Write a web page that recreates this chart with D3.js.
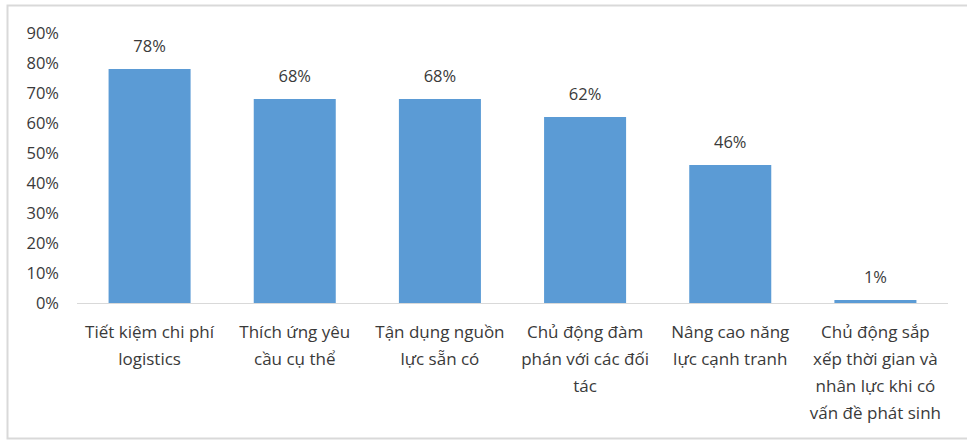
<!DOCTYPE html>
<html>
<head>
<meta charset="utf-8">
<script src="https://cdn.jsdelivr.net/npm/d3@7"></script>
<style>
  html, body { margin: 0; padding: 0; background: #fff; }
  svg { display: block; }
  text { font-family: "Open Sans", "Noto Sans", sans-serif; fill: #3a3a3a; }
</style>
</head>
<body>
<svg id="chart" width="967" height="440"></svg>
<script>
const categories = [
  "Tiết kiệm chi phí logistics",
  "Thích ứng yêu cầu cụ thể",
  "Tận dụng nguồn lực sẵn có",
  "Chủ động đàm phán với các đối tác",
  "Nâng cao năng lực cạnh tranh",
  "Chủ động sắp xếp thời gian và nhân lực khi có vấn đề phát sinh"
];
const categoryLines = [
  ["Tiết kiệm chi phí", "logistics"],
  ["Thích ứng yêu", "cầu cụ thể"],
  ["Tận dụng nguồn", "lực sẵn có"],
  ["Chủ động đàm", "phán với các đối", "tác"],
  ["Nâng cao năng", "lực cạnh tranh"],
  ["Chủ động sắp", "xếp thời gian và", "nhân lực khi có", "vấn đề phát sinh"]
];
const values = [0.78, 0.68, 0.68, 0.62, 0.46, 0.01];
const tickValues = [0, 0.1, 0.2, 0.3, 0.4, 0.5, 0.6, 0.7, 0.8, 0.9];

const svg = d3.select("#chart");

// chart border
svg.append("rect")
  .attr("x", 7.5).attr("y", 5.5)
  .attr("width", 980).attr("height", 433)
  .attr("fill", "none")
  .attr("stroke", "#d9d9d9")
  .attr("stroke-width", 2);

const x = d3.scaleBand()
  .domain(categories)
  .range([77, 948])
  .paddingInner(0.435)
  .paddingOuter(0.2175);

const y = d3.scaleLinear()
  .domain([0, 0.9])
  .range([303, 33]);

// y axis labels
const yAxis = d3.axisLeft(y)
  .tickValues(tickValues)
  .tickFormat(d3.format(".0%"))
  .tickSize(0)
  .tickPadding(0);
const gy = svg.append("g")
  .attr("transform", "translate(59,0)")
  .call(yAxis);
gy.select(".domain").remove();
gy.selectAll("text")
  .style("font-family", "'Open Sans', 'Noto Sans', sans-serif")
  .style("font-size", "16.5px")
  .attr("fill", "#3a3a3a");

// bars
svg.append("g").selectAll("rect")
  .data(values)
  .join("rect")
  .attr("x", (d, i) => x(categories[i]))
  .attr("y", d => y(d))
  .attr("width", x.bandwidth())
  .attr("height", d => y(0) - y(d))
  .attr("fill", "#5b9bd5");

// x axis line
svg.append("line")
  .attr("x1", 77).attr("x2", 948)
  .attr("y1", y(0) + 0.5).attr("y2", y(0) + 0.5)
  .attr("stroke", "#d9d9d9")
  .attr("stroke-width", 1);

// data labels
svg.append("g").selectAll("text")
  .data(values)
  .join("text")
  .attr("x", (d, i) => x(categories[i]) + x.bandwidth() / 2)
  .attr("y", d => y(d) - 17)
  .attr("text-anchor", "middle")
  .style("font-size", "16.5px")
  .text(d => d3.format(".0%")(d));

// category labels
const cg = svg.append("g").selectAll("text")
  .data(categoryLines)
  .join("text")
  .attr("x", (d, i) => x(categories[i]) + x.bandwidth() / 2)
  .attr("y", 338)
  .attr("text-anchor", "middle")
  .style("font-size", "17px");
cg.selectAll("tspan")
  .data((d, i) => d.map(t => ({ t, i })))
  .join("tspan")
  .attr("x", d => x(categories[d.i]) + x.bandwidth() / 2)
  .attr("dy", (d, j) => j === 0 ? 0 : 27)
  .text(d => d.t);
</script>
</body>
</html>
